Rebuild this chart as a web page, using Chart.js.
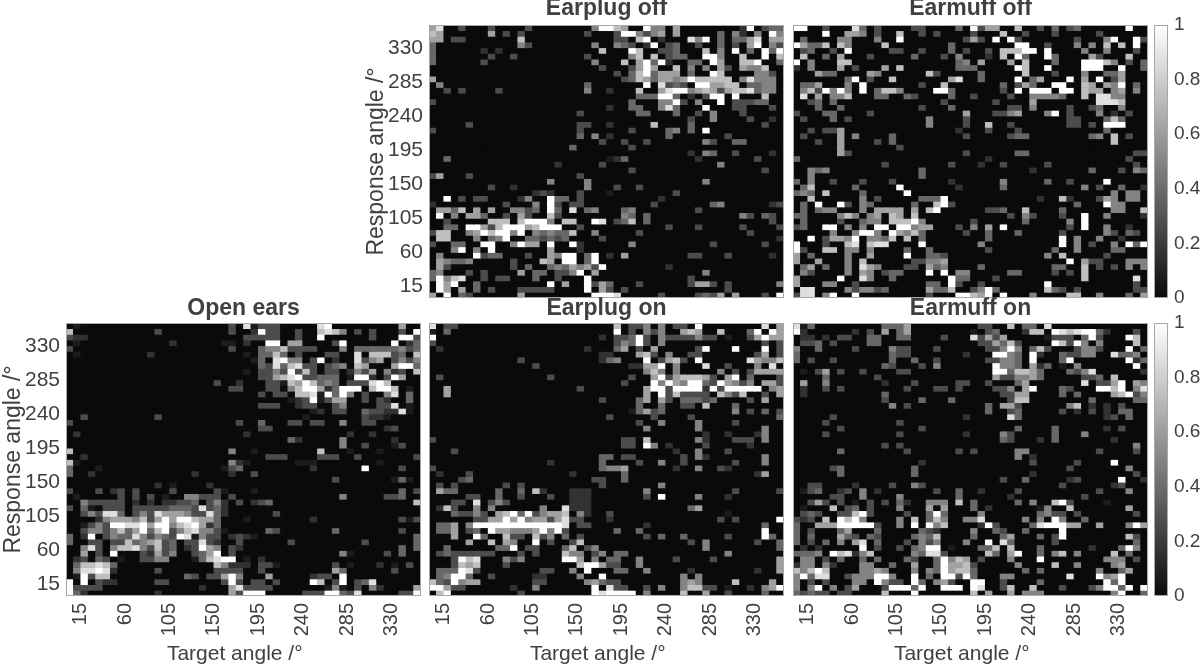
<!DOCTYPE html>
<html>
<head>
<meta charset="utf-8">
<script src="https://cdn.jsdelivr.net/npm/chart.js@4"></script>
<style>
  html, body { margin: 0; padding: 0; background: #fff; width: 1200px; height: 667px; overflow: hidden; }
  canvas { position: absolute; }
</style>
</head>
<body>
<script>
// one string per response-angle bin, top row first. digit = proportion x 9, '.' = 0
const openEars = [
".1.... ...... ...... ....3. 81333. ....89 ...... ...6..",
"7..... ...... 3..... ....3. .2933. .3..78 75.3.3 ...3.9",
"322... ...... ...... ...... 33333. .3..9. .....3 ...993",
".1.... ...... ..2... ...11. 2..99. 66.... 39.... ..9.24",
"3..... ...... ...... ....3. ..4557 3333.. .5.444 444534",
".1.... .....2 ...... ...... 1.4474 .3...3 3..8.7 7734.7",
"...... ...... ...... ...... .14.89 55.39. 2..835 6.3535",
"...... ...... ...... ...... ..4384 7833.3 45.76. ..6994",
"...... ...... ...... ...... 1.3353 9373.3 3.2536 .523.7",
"...... ...... ...... ...... ..3367 893344 4.1992 .396..",
"...... ...... ...... ..3..2 ...331 769745 4.3338 97....",
"...... ...... ...... ....33 ...33. 579962 4999.7 997.1.",
"...... ...... ...... ...... ..3.33 .77819 495.3. .58.4.",
"...... ...... ...... ...... ...... 123913 66..3. 32..4.",
"...... ...... ...... ...... ..333. .233.. 35.... 338.1.",
"...... ...... ...... ...... ...... ...12. 33..43 32281.",
"..3... ...... 3..... ...... ...... ..1... ....32 21....",
"3..... ...... ...... .....3 ..4... 33.33. .5..33 ......",
"...... ...... ...... ...... ..33.. ...... ...... .23...",
".2.... ...... ...... ...... 2..... ...... ..2..2 ......",
"...... ...... ...... ...... ...... 42.... .5.... ..2...",
"...... ...... ...... ...... ...... ...... .5..3. ..13..",
"7..... ...... ...... ....5. .1.... ....7. ..1... 1.....",
"..2... ...... ...... ...... ...333 ....33 3..3.. .....3",
"71.... ...... ...... ....52 1..... .111.. ...... 1.....",
"4...1. ...... ...... ...134 ...... ...2.. ....9. ...3..",
"4..2.. ...... .....2 ....2. .3.... ...... ...... ......",
"...... ...... ...... ...... ...... ...... 3..... ..141.",
"...... ...... 2.1... .2.... ...... ...... ...... ......",
"3...3. 23.3.. ..3... ..31.. .1.... ...... ...... ...4.3",
".1.... .3.3.3 .1..55 333.3. ...... ...... .5.... .334..",
"..5333 33.2.2 .22334 .352.3 .234.. ...... ...... .....7",
"3.41.3 33.333 334443 8342.. ...... ...... ...... ......",
"..3538 84.353 866653 3842.. ....3. ...... ...... ......",
"....25 666573 696997 664... 1..... ...2.. ...... ...313",
"..1353 998896 995789 624... ...... ...... ...... ......",
"..3553 574694 793578 5531.. ...43. ...... 4..... ...3..",
"4.29.3 544853 543981 533.23 21.... ...... ...... .....4",
"4..33. 337456 734.33 832..3 ...... 3..... ....3. .....4",
"..583. 577853 734.23 965.32 ...... ...... ...... ...4.4",
"..6.3. 9...32 635..3 469.3. ...... ...... .51... .3.4..",
".23.43 .1..33 55...1 47899. 1.2... ...... ...... ......",
".47787 4..... ...... ..7522 2.331. ...... 3.1... 2.1.3.",
".58898 2..... 3..... ..3333 ..3... ...... 64.... ..3...",
".19377 ...... ....43 .33695 ...6.. ...233 .9.... ......",
"9.9.32 2..... 33.... ...393 .33.3. ...97. 39.348 ......",
"93333. ...... ...... 2...68 3333.. .....1 51.3.5 2....6",
"942... ...... 2..... ....63 999... ..3339 9438.. ...339"
];

const earplugOn = [
"8.33.. ...... ...... ...... .7.335 .5.33. 9..... ...8.6",
"1.4... ...... ...... ...... .9.3.5 35..67 6..7.. .49.96",
"9..... ...... ...... .....2 .33493 .53333 533.1. .36966",
"3..... ...... ...... ...... .35493 .5.... ...... ...3.3",
".2.... ...... ...... ...2.. .46.3. 6..... 39...9 ...9.3",
"...... ...... ...... .....2 2...67 3.5..3 3..... ..36.3",
"...... ...... 3..... .....2 45...9 .3673. 9..... .86557",
"...... ...... ..3... ...... ...226 69.5.. .8..3. ..5.8.",
"...... ...... ...... ...... .....5 75.5.. ...5.3 .36666",
".3.... ...... ....3. ...... ...3.. 693677 763.69 .4...3",
"...... ...... ...... ...... ..3... 959659 943965 35.663",
"..6... ...... ...... ..3... .....6 993999 929399 999.56",
"..6... ...... ...... ...... .....6 .93733 33.753 7..3.6",
"...... ...... ...... .....3 ....46 .63.44 434... .3.6..",
"...... ...... ...... ...... ....4. .4..33 .7...4 ......",
"...... ...... ...... ...... ...146 34.... .....5 .3.4.3",
"...... ...... ...... ...... 3..... 3....3 ...... .....4",
"...... ...... ...... ...... ....3. .5.... 5....3 ......",
"...... ...... ...... ...... .....5 ...... 5..... ...5..",
"...... ...... ...... ...... ...... ...... .2..2. ..25..",
"3..... ...... ...... ...... ..33.7 ...... 52...3 33.5..",
"...... ...... ...... ...... ..33.9 5.2... .3.... .2....",
"...3.. ...... ...... ...... ...... ...2.. 5...3. ......",
"...... ...... ...... .....4 4.33.. ....3. 52.... ...5..",
"...... ...... ....2. .....4 ....3. .5..3. .....3 ...5..",
"3..... ...... ...... .....4 556... ...2.. 5..32. ......",
".2...3 ...... ...... .2.... ..4... ...... ...... ..26..",
"....34 ...... ...... ....33 ..4... ...... ...... ......",
".3.3.. ....3. 3..... .....3 ...... .5.... ...... ......",
".644.. ...4.. 4.72.. .222.. .....5 ...... .....3 .....3",
".....3 3..4.. 3...3. .222.. .....3 .9.... 5...2. ......",
"...33. 8.353. ...... .222.. ...... ...... ...... ......",
".273.. 5.5... ...5.. 8222.. ...... .....4 6..... ......",
"...433 53.679 493566 7.52.. 3..... ...... ....1. ......",
"...... 336696 956636 833... 2..... ...... ...3.3 .....9",
".446.5 999999 999999 8.33.. .....2 ...... ...... ...4..",
".446.3 4.9665 556959 3..... .4..4. ...... ...... ...9..",
"...6.. 94..73 3.735. 4.3... .....3 .4..4. ....3. ...94.",
".....6 ..7.65 ..9.3. .37... ...... .....3 .5.... ..3..4",
"..4... ...449 .33... 47.35. ...... ...... .5.... .....4",
".34333 333... 3.3... 755.35 .44... ...... ....5. ......",
"...397 8...53 5..... 996.5. 44..5. ...3.. ..3... .....6",
"...376 7...3. ...... ..7996 33..5. ...... ...... .....6",
".44498 3..... ...33. .5.9.. .44..5 .....2 ...... ..2..6",
".45994 ..3... ..22.. ..5..9 ...... ....5. 5..... ......",
"743956 6..... ..33.. ...564 33.... ....56 5....7 ....6.",
"99633. .....2 ..5... ....9. 833..3 .5..57 733.1. .2.569",
".79... ...... 3..... ....98 9999.5 ....7. .6..3. ...4.."
];

// sparser panels: "column:digit" pairs per row, top row first
const earmuffOn = [
"0:8 1:1 2:4 12:4 13:4 14:4 15:6 25:3 26:3 29:7 31:4 32:4 34:8",
"0:9 1:2 8:2 10:3 12:6 14:4 15:6 24:1 26:3 27:4 31:2 32:7 33:7 35:9 36:8 37:7 38:8 39:9 40:9 41:4 42:2 46:3",
"1:2 2:2 4:2 6:3 7:3 10:4 11:4 14:4 15:4 20:3 24:8 25:3 26:6 27:3 28:6 34:1 35:3 36:3 37:3 39:4 40:9 41:3 45:9 46:7",
"1:3 2:3 3:4 5:3 10:4 11:4 25:3 26:3 27:6 28:4 29:7 30:3 35:9 36:7 37:3 38:9 39:5 41:5 46:7",
"0:5 3:4 8:3 13:5 14:3 15:3 19:3 26:3 27:3 28:5 29:9 30:5 32:4 33:7 34:3 38:3 39:5 40:5 41:3 45:9 47:4",
"0:4 13:4 14:3 15:3 23:2 27:9 28:9 29:5 30:4 32:9 33:2 36:4 37:3 38:3 39:5 40:5 43:8 44:4 45:4 46:5",
"0:4 2:3 5:3 13:4 16:4 19:3 26:3 27:3 28:5 29:5 30:4 32:9 36:4 37:9 45:9 46:2 47:4",
"12:4 13:3 17:3 19:5 27:9 28:5 29:5 30:4 32:6 33:2 34:4 36:1 38:5 46:9",
"1:1 3:3 4:6 6:3 9:3 14:3 15:3 27:9 28:9 29:4 30:7 31:7 32:6 33:4 37:4 38:3 39:5 40:8 47:2",
"4:4 11:3 27:6 28:3 29:3 30:5 31:5 32:6 33:4 39:3 40:3 41:4 43:7",
"1:6 4:5 12:2 16:3 22:3 23:3 26:3 30:4 31:6 39:8 41:3 42:3 43:6 44:9 46:6 47:5",
"1:2 4:3 6:3 15:3 19:3 20:3 22:3 27:3 28:3 29:5 31:6 32:9 36:4 37:3 41:9 42:9 43:7 44:9 46:5 47:8",
"1:2 12:4 28:3 29:3 30:6 31:6 36:4 38:4 43:6 44:7 45:9 46:3 47:5",
"12:3 17:4 21:4 29:3 30:7 31:7 40:4 46:4 47:4",
"13:5 15:3 26:4 28:6 29:6 30:3 37:5 38:7 40:2 42:2 44:3",
"26:4 29:3 30:4 36:3 38:2 40:3 42:2 44:4 45:4",
"5:3 23:2 29:8 30:4 42:2 43:3 45:4",
"4:3 14:3",
"6:3 17:3 30:4 35:4 42:2 44:3",
"4:3 14:3 23:2 28:5 29:3 35:4 39:5",
"28:4 29:3 33:2 35:4 43:2",
"12:3 14:3 46:5",
"6:4 15:3 22:3 24:3 30:5 31:5 41:3 46:3",
"30:5 32:2",
"17:2 32:3 38:3 43:9",
"5:3 6:4 16:4 37:3 45:5",
"6:4 16:4 32:2 46:3",
"28:3 31:4 37:2 38:3 44:9 47:2",
"2:3 3:3 8:2 13:3 16:5 17:3 36:3 43:2 44:3",
"1:1 2:3 3:4 6:2 7:3 9:5 11:2 19:3 22:4 25:2 30:3 41:3 45:5",
"5:3 6:3 9:5 14:5 22:4 29:2 39:3",
"2:3 3:6 4:3 6:3 8:1 10:3 12:3 14:4 15:2 18:5 19:5 20:5 22:7 24:4 30:4 32:5 35:7 36:9 37:3 42:1",
"1:1 5:7 7:3 8:4 10:3 14:5 18:6 20:6 24:4 26:2 33:1 34:5 37:7 45:6",
"1:3 2:4 3:3 6:3 7:3 8:7 9:9 10:3 15:3 18:4 19:9 20:4 25:5 33:4 34:5 35:3 36:3 38:3 46:3",
"0:3 1:2 2:3 4:7 6:9 7:7 8:9 9:5 14:5 16:7 18:4 19:7 20:5 23:5 24:5 25:8 31:5 33:5 35:9 36:5 39:4",
"0:4 3:6 4:6 5:6 6:9 7:9 8:9 9:9 10:9 11:3 14:5 16:9 18:9 19:5 20:7 25:2 26:9 27:3 32:4 33:8 34:9 35:9 36:9 37:6 38:6 41:6 45:5 46:9 47:6",
"0:4 2:3 6:4 7:6 11:4 17:4 18:3 19:2 24:5 27:4 28:3 31:4 36:9",
"0:4 2:4 6:6 7:4 8:3 10:4 11:3 16:4 17:5 18:4 19:7 24:4 28:4 29:6 33:4 35:3 36:9 45:7 46:3",
"0:4 2:3 4:4 6:5 8:6 9:8 11:4 15:3 17:5 18:3 19:5 23:5 26:9 28:8 29:4 35:3 46:4",
"1:2 3:2 9:9 11:3 14:3 16:4 17:5 18:9 19:9 21:1 25:4 26:4 27:7 29:7 33:4 40:2 44:4 45:9 46:5",
"0:4 1:4 2:4 3:5 5:9 6:7 7:8 8:2 9:5 10:7 16:5 17:4 18:8 19:8 20:3 26:7 27:4 29:6 30:9 33:4 35:5 36:7 38:5 43:7 45:4",
"1:5 2:5 4:3 6:4 9:4 11:4 15:4 16:3 19:4 20:9 21:5 22:7 23:6 25:3 29:5 33:9 42:5 43:5 44:5 46:3",
"0:2 1:5 2:5 4:5 5:2 9:5 10:5 13:4 16:6 19:4 20:9 21:6 22:6 23:7 24:3 30:5 35:7 38:5 43:5 44:6",
"0:7 1:5 2:7 3:9 4:7 9:5 10:5 11:6 12:5 16:5 18:5 19:4 20:9 21:6 22:7 23:7 24:4 31:4 33:4 41:5 44:4 45:6",
"0:5 1:9 2:4 3:8 4:8 7:3 8:5 9:5 10:5 11:9 12:9 13:5 16:9 18:4 20:9 21:9 22:3 23:9 24:4 28:5 29:5 37:8 41:9 42:5 43:6 44:9",
"0:5 2:3 4:3 8:5 9:5 11:9 12:5 13:3 14:3 16:9 17:4 19:5 20:6 21:3 24:9 25:9 28:3 33:4 42:9 43:4 44:9",
"0:5 2:5 3:9 5:5 7:3 8:6 12:3 13:9 14:9 15:9 16:4 17:9 20:9 21:9 22:9 24:9 25:8 28:3 29:7 32:7 36:3 40:3 41:5 42:9 43:9 44:4 45:9 47:9",
"0:4 1:3 2:4 3:3 4:3 6:3 7:3 12:7 16:9 24:7 26:6 29:6 31:5 32:5 33:5 43:5 44:9 47:4"
];

const earplugOff = [
"0:6 1:8 4:3 8:3 13:3 22:5 23:9 24:9 25:7 26:6 29:9 30:5 31:5 33:6 42:2 43:9 45:3 46:4 47:4",
"0:7 1:6 8:6 10:3 12:3 21:3 25:3 26:9 27:9 28:5 29:3 30:5 31:6 33:6 39:4 41:5 42:2 44:5 46:9 47:5",
"0:6 1:6 3:3 4:3 12:7 25:3 26:3 28:7 29:9 31:2 35:8 36:5 37:9 39:4 41:4 42:4 43:6 44:8 46:6 47:6",
"0:4 12:5 13:3 22:5 25:5 26:4 27:3 29:2 30:9 32:3 33:4 36:3 39:4 41:3 43:6 44:9 46:5 47:3",
"0:4 7:2 9:2 23:7 27:9 28:7 31:3 32:3 33:4 37:7 39:5 41:9 43:4 45:9 46:4 47:9",
"0:4 8:3 11:3 21:3 27:5 28:7 30:7 32:3 33:4 34:4 37:9 38:9 39:5 42:7 45:9 47:7",
"0:4 7:3 22:5 26:7 28:6 29:9 30:4 31:9 32:2 35:4 36:4 38:9 39:6 42:7 43:7 44:9 47:4",
"23:3 27:3 28:6 29:9 30:6 33:7 35:5 37:5 39:6 40:3 42:6 43:5 44:5 45:7",
"25:3 27:4 28:7 29:9 30:4 31:6 32:6 33:6 35:4 38:9 39:7 44:5 45:5 46:3",
"0:6 26:3 27:4 28:7 29:6 30:4 31:6 32:6 33:5 34:6 35:9 36:7 37:7 38:7 39:7 40:7 42:5 43:8 44:5 45:5 46:5",
"1:5 21:4 29:9 31:8 32:3 33:4 34:3 36:9 37:9 38:6 39:6 40:7 41:7 43:4 44:4 45:5 46:5",
"2:3 4:3 9:3 21:5 24:2 28:7 31:6 32:8 33:9 34:9 35:5 36:6 37:7 38:6 39:3 40:6 41:7 42:7 43:8 44:4 45:5 46:5",
"28:4 29:4 30:4 31:9 32:9 33:4 35:2 37:3 38:9 39:9 41:9 45:7",
"0:3 27:4 31:5 32:5 33:9 34:3 36:5 39:9 41:3 42:3 43:3 44:4 45:4",
"24:2 27:4 28:4 31:5 32:8 33:4 37:9 41:3 42:3 46:3",
"20:3 28:4 29:4 33:4 36:3 38:5 42:3",
"35:3 38:5 43:3 46:2",
"5:3 20:3 21:3 24:2 30:7 35:4 45:3",
"0:3 20:3 27:3 32:4 33:5 35:4 37:9",
"20:4 22:5 24:2 32:4 40:3",
"23:3 26:3 29:3 37:5 38:3 41:4 42:4",
"19:4 27:3",
"35:2 37:5 38:4 41:3 46:2",
"2:4 24:1 25:2 26:4 36:2 44:3",
"17:2 23:3 39:5",
"27:3 45:3",
"0:3 1:6 5:3 20:3",
"16:5 21:5 37:5",
"8:3 11:2 21:5 25:3 28:3",
"14:2 15:3 16:2 20:3 24:1 33:3",
"2:9 4:3 6:3 7:3 12:2 13:5 16:9 17:4 18:4 20:3 31:2",
"0:2 10:3 14:5 16:9 17:3 19:3 20:3 30:3 38:4 39:5 46:2 47:3",
"1:6 2:6 3:4 4:7 6:6 8:6 11:5 12:5 13:3 14:4 16:9 17:4 19:8 21:4 22:5 26:4 27:5 36:3",
"1:9 3:5 5:6 6:6 7:4 10:3 12:6 13:3 16:7 17:3 26:5 27:4 29:4 42:5 43:3 45:4 46:3",
"2:3 8:7 9:7 10:7 12:7 13:9 14:9 15:9 16:5 18:7 19:7 22:9 23:8 25:3 26:4 27:7 29:4 46:3",
"2:4 3:4 5:9 6:9 7:6 8:3 9:7 10:9 11:9 12:9 13:6 14:7 15:9 16:9 17:9 20:3 32:3 36:3 42:3 47:3",
"0:3 1:7 2:7 5:5 6:6 7:9 8:7 9:9 10:9 11:5 12:9 14:5 15:4 16:5 17:4 18:4 19:7 22:5 28:3 43:3",
"1:7 2:7 6:5 8:4 9:5 10:9 13:4 14:4 15:3 16:4 17:3 18:4 23:3 47:2",
"0:3 3:4 4:4 7:9 8:9 11:5 12:9 13:6 14:6 16:9 19:9 20:2 27:5 38:3 45:3",
"3:5 4:9 6:5 8:9 16:6 20:2",
"1:5 6:9 7:3 8:4 9:4 13:3 16:6 17:5 18:9 19:9 21:4 22:9 24:2 26:6 35:3 36:3 40:3 46:2",
"1:6 2:5 3:4 4:4 5:5 11:3 15:7 16:6 18:9 19:9 21:4 22:9",
"1:6 2:3 11:3 13:4 16:4 17:5 18:4 19:6 20:5 21:6 22:3 23:9 32:2",
"0:4 1:5 5:3 7:3 12:6 14:4 15:4 17:3 18:3 19:5 20:9 22:6 37:5",
"0:4 1:9 2:5 3:7 4:8 7:3 9:3 10:3 14:4 17:3 21:9 35:3",
"1:9 2:6 3:9 6:4 16:9 18:6 21:9 22:3 23:6 24:4 28:3 35:3 36:6 37:6 38:3 40:3 47:5",
"1:9 2:6 4:6 6:4 8:3 12:3 13:3 14:3 15:3 16:3 21:9 23:6 24:3 26:3 40:3",
"0:6 2:9 4:4 5:3 12:6 22:9 23:9 24:9 25:8 31:3 36:3 37:4 38:3 39:6 41:6 45:3 47:9"
];

const earmuffOff = [
"0:9 1:9 4:3 8:8 9:4 11:3 16:3 17:3 22:4 24:9 25:3 26:6 27:6 30:7 33:3 35:4 37:3 38:4 45:9",
"4:9 7:6 8:6 9:5 11:3 14:7 17:3 19:3 24:3 28:7 31:3 35:3 41:3",
"1:4 6:5 7:5 11:5 14:9 23:3 24:6 25:3 27:9 29:9 30:3 38:3 42:5 43:9 46:9 47:3",
"0:9 1:6 2:4 3:4 4:7 6:7 7:5 12:7 21:4 30:9 31:9 34:3 38:5 40:5 42:7 44:7 46:9",
"1:3 2:4 5:3 7:9 13:3 14:3 17:3 21:4 23:3 26:3 28:7 29:7 30:7 31:9 32:9 34:9 39:5 42:5 46:3",
"1:7 4:4 6:6 10:3 16:4 20:3 22:5 26:2 28:7 30:9 31:4 34:9 35:4 40:6 41:3 45:7",
"0:9 2:5 6:7 7:7 22:4 23:5 25:6 29:6 31:7 35:4 39:9 40:9 41:9 42:7 43:5 45:3 47:4",
"0:2 2:5 6:6 8:3 12:6 14:7 22:4 23:4 24:4 30:9 31:7 34:9 39:9 40:9 41:9 44:9 47:4",
"3:6 4:4 5:4 10:6 11:5 18:7 19:3 25:4 31:7 35:3 39:5 42:4 43:4 44:6",
"7:4 8:9 10:3 13:7 21:6 22:8 25:4 30:9 32:4 33:6 37:9 39:6 41:9 43:3 44:6",
"1:4 2:4 3:6 7:5 9:9 17:3 20:7 28:4 30:3 31:6 32:4 35:9 36:9 39:7 40:6 42:6 43:5 44:9 46:4",
"1:5 2:7 3:3 4:9 5:5 6:9 7:5 9:9 11:4 12:7 13:7 14:5 19:9 20:9 21:4 28:3 30:9 32:9 33:9 34:9 36:9 37:9 39:7 40:6 41:6 43:5 44:6 46:5",
"1:8 3:6 5:5 6:5 7:7 11:4 12:4 15:4 16:3 21:4 24:3 29:3 32:5 33:5 34:5 35:5 36:4 39:7 41:8 42:8 43:5 44:5",
"2:3 3:4 5:4 20:3 27:3 32:6 41:8 42:8 43:8 44:7",
"3:4 6:4 17:3 21:4 29:3 30:3 32:5 37:3 40:3 41:4 44:5",
"0:3 4:4 5:4 10:3 23:6 27:3 28:3 29:5 30:6 34:5 35:9 37:3 41:5 43:2 45:3",
"1:3 5:4 7:3 18:5 23:3 37:3 38:3 42:4 43:7 44:4",
"18:5 23:3 26:7 29:3 37:3 38:3 40:3 42:9 43:9 44:9",
"2:3 4:3 5:3 6:6 22:2 26:3 30:3 42:4",
"1:3 6:6 8:5 13:4 23:3 29:3 30:4 31:4 40:4 41:5 43:7 45:3",
"3:3 6:6 11:3 13:4 43:7",
"6:6 14:3",
"6:6 7:3 23:3 30:4 31:4 46:3 47:3",
"0:4 26:2 45:3",
"12:3 21:3 25:2 28:3 34:3 46:3",
"2:5 3:4 4:5 17:4 32:2 40:4 44:3 46:5 47:4",
"2:5 17:4",
"0:4 2:5 5:3 9:3 13:3 21:2 28:5 34:4 37:3 42:9",
"1:4 2:7 8:4 14:9 22:2 28:4 39:5 41:3 44:4 47:2",
"0:4 1:5 2:4 4:7 9:4 15:9 43:5 45:5 46:5",
"2:7 9:5 11:3 17:4 18:4 19:4 20:9 33:2 36:7 37:2 41:3 42:6 43:5 45:5 46:5",
"1:4 3:9 6:9 7:3 9:5 10:4 16:4 19:7 20:9 21:3 38:4 42:9 43:5 44:5",
"1:4 3:4 4:5 5:5 9:5 11:6 12:6 13:6 14:6 16:6 18:7 19:9 26:3 27:3 28:4 31:7 36:4 43:5 44:5 47:7",
"0:4 1:4 6:5 7:7 8:5 10:5 11:6 13:7 14:6 16:7 29:3 31:5 32:3 36:3 39:9 42:5 47:2",
"1:4 6:3 9:4 10:5 11:5 13:7 14:7 15:7 16:9 17:5 24:3 31:4 37:5 39:9",
"0:3 1:4 4:9 5:9 7:5 9:5 11:9 12:9 14:9 15:9 16:5 17:6 18:6 22:3 24:5 26:6 28:9 37:3 39:9 42:5 45:2",
"5:5 8:5 9:9 10:9 11:5 13:9 14:6 15:5 16:7 17:4 23:3 26:4 30:4 36:3 42:5 43:3 45:4 46:3",
"2:9 4:3 5:6 6:6 7:5 8:9 10:5 11:5 12:4 13:7 15:7 17:4 26:4 36:9 38:5 41:5 44:2",
"0:9 4:3 7:7 8:8 10:7 11:8 12:8 17:9 25:5 36:9 38:5 40:3 43:5 45:9 46:4 47:9",
"0:9 1:3 4:7 5:7 7:5 8:5 10:5 15:4 18:4 26:3 35:4 38:5 43:4 44:4",
"0:6 2:4 7:5 10:6 15:9 18:4 19:4 20:3 34:5 36:7 42:3",
"0:6 3:6 7:5 9:7 16:3 17:3 18:5 19:5 20:6 37:9 39:6 40:3 41:3 45:5 46:5 47:5",
"1:4 2:6 4:4 7:5 9:8 10:6 11:5 15:3 16:3 18:6 19:4 20:5 25:4 35:4 36:4 39:7 41:3 43:3 45:5 47:5",
"1:5 2:3 7:5 9:6 10:5 12:3 13:4 14:4 18:9 20:9 22:5 23:5 29:4 30:4 35:3 37:3 39:7",
"0:6 6:9 9:8 10:5 13:4 21:9 22:4 23:4 27:3 39:7 46:8",
"0:6 4:5 5:5 8:3 18:4 19:4 21:9 22:3 25:3 34:9 46:3",
"1:8 2:8 7:5 8:3 9:5 10:5 11:3 12:4 18:6 19:4 20:4 21:7 24:3 25:5 26:9 27:4 34:7 35:4 36:3 38:3 46:3 47:3",
"0:3 1:8 2:8 4:5 5:9 8:9 18:3 22:9 23:9 24:7 25:6 26:9 28:9 32:5 37:7 38:7 41:5 45:4 47:6"
];

const panelTitles = ["Open ears", "Earplug on", "Earmuff on", "Earplug off", "Earmuff off"];
const angleTicks = [15, 60, 105, 150, 195, 240, 285, 330];
const colorbarTicks = [0, 0.2, 0.4, 0.6, 0.8, 1];
const binWidth = 7.5;
const textColor = '#404040';
const fontFamily = '"Liberation Sans", Arimo, Helvetica, Arial, sans-serif';

function grey(v) {
  const g = Math.round(10 + 245 * v);
  return 'rgb(' + g + ',' + g + ',' + g + ')';
}

function rowCells(row) {
  const cells = new Array(48).fill(0);
  if (row.includes(':')) {
    row.split(' ').forEach(p => {
      const [c, d] = p.split(':');
      cells[Number(c)] = Number(d);
    });
  } else {
    row.replace(/ /g, '').split('').forEach((c, i) => {
      if (i < 48 && c !== '.') cells[i] = Number(c);
    });
  }
  return cells;
}

function rowDatasets(rows) {
  return rows.map((row, r) => {
    const cells = rowCells(row);
    return {
      grouped: false,
      barPercentage: 1,
      categoryPercentage: 1,
      borderWidth: 0,
      inflateAmount: 0.35,
      data: cells.map((c, i) => ({ x: (i + 0.5) * binWidth, y: [(47 - r) * binWidth, (48 - r) * binWidth] })),
      backgroundColor: cells.map(c => grey(Math.pow(c / 9, 1.2)))
    };
  });
}

// dark ground under the cells and the thin grey box round each axes
const frame = {
  id: 'frame',
  beforeDatasetsDraw(chart) {
    const a = chart.chartArea, c = chart.ctx;
    c.fillStyle = grey(0);
    c.fillRect(a.left, a.top, a.width, a.height);
  },
  afterDraw(chart) {
    const a = chart.chartArea, c = chart.ctx;
    c.save();
    c.strokeStyle = '#a8a8a8';
    c.lineWidth = 1;
    c.strokeRect(Math.round(a.left) + 0.5, Math.round(a.top) + 0.5, Math.round(a.width) - 1, Math.round(a.height) - 1);
    c.restore();
  }
};

function addCanvas(left, top, w, h) {
  const cv = document.createElement('canvas');
  cv.width = w;
  cv.height = h;
  cv.style.left = left + 'px';
  cv.style.top = top + 'px';
  document.body.appendChild(cv);
  return cv;
}

const angleAxis = (axisTitle, show, size, isX) => ({
  type: 'linear',
  display: show,
  offset: false,
  min: 0,
  max: 360,
  grid: { display: false, drawTicks: false },
  border: { display: false },
  afterBuildTicks(s) { s.ticks = angleTicks.map(v => ({ value: v })); },
  afterFit(s) {
    if (isX) s.height = size; else s.width = size;
    s.paddingTop = s.paddingBottom = s.paddingLeft = s.paddingRight = 0;
  },
  ticks: {
    color: textColor,
    autoSkip: false,
    padding: isX ? 7 : 6,
    minRotation: isX ? 90 : 0,
    maxRotation: isX ? 90 : 0,
    font: { family: fontFamily, size: isX ? 20 : 21 }
  },
  title: {
    display: true,
    text: axisTitle,
    color: textColor,
    padding: { top: 0, bottom: 0 },
    font: { family: fontFamily, size: isX ? 21 : 23 }
  }
});

function drawPanel(rows, title, left, top, showY, showX) {
  const panelW = 355, panelH = 273;
  const gap = showX ? 0 : 2, titleH = 28 + gap;
  const yw = showY ? 66 : 0, xh = showX ? 71 : 0;
  const cv = addCanvas(left - yw, top - titleH, panelW + yw, panelH + titleH + xh);
  new Chart(cv, {
    type: 'bar',
    data: { datasets: rowDatasets(rows) },
    options: {
      responsive: false,
      animation: false,
      events: [],
      layout: { padding: 0 },
      plugins: {
        legend: { display: false },
        tooltip: { enabled: false },
        title: {
          display: true,
          fullSize: false,
          text: title,
          color: textColor,
          padding: { top: 0, bottom: gap },
          font: { family: fontFamily, size: 23, weight: 'bold', lineHeight: '28px' }
        }
      },
      scales: {
        x: angleAxis('Target angle /\u00b0\u00a0\u00a0\u00a0', showX, xh, true),
        y: angleAxis('Response angle /\u00b0', showY, yw, false)
      }
    },
    plugins: [frame]
  });
}

function drawColorbar(top) {
  const cv = addCanvas(1154, top - 14, 46, 273 + 28);
  new Chart(cv, {
    type: 'bar',
    data: {
      labels: [''],
      datasets: [{
        data: [[0, 1]],
        barPercentage: 1,
        categoryPercentage: 1,
        borderWidth: 0,
        backgroundColor(ctx) {
          const a = ctx.chart.chartArea;
          if (!a) return '#888';
          const g = ctx.chart.ctx.createLinearGradient(0, a.bottom, 0, a.top);
          g.addColorStop(0, grey(0));
          g.addColorStop(1, grey(1));
          return g;
        }
      }]
    },
    options: {
      responsive: false,
      animation: false,
      events: [],
      layout: { padding: { top: 14, bottom: 14, left: 0, right: 0 } },
      plugins: { legend: { display: false }, tooltip: { enabled: false } },
      scales: {
        x: { display: false },
        y: {
          position: 'right',
          min: 0,
          max: 1,
          grid: { display: false, drawTicks: false },
          border: { display: false },
          afterBuildTicks(s) { s.ticks = colorbarTicks.map(v => ({ value: v })); },
          afterFit(s) {
            s.width = 32;
            s.paddingTop = s.paddingBottom = 0;
          },
          ticks: {
            color: textColor,
            padding: 6,
            callback: v => String(v),
            font: { family: fontFamily, size: 19 }
          }
        }
      }
    },
    plugins: [frame]
  });
}

drawPanel(earplugOff, panelTitles[3], 429, 25, true, false);
drawPanel(earmuffOff, panelTitles[4], 793, 25, false, false);
drawPanel(openEars, panelTitles[0], 66, 323, true, true);
drawPanel(earplugOn, panelTitles[1], 429, 323, false, true);
drawPanel(earmuffOn, panelTitles[2], 793, 323, false, true);
drawColorbar(25);
drawColorbar(323);
</script>
</body>
</html>
